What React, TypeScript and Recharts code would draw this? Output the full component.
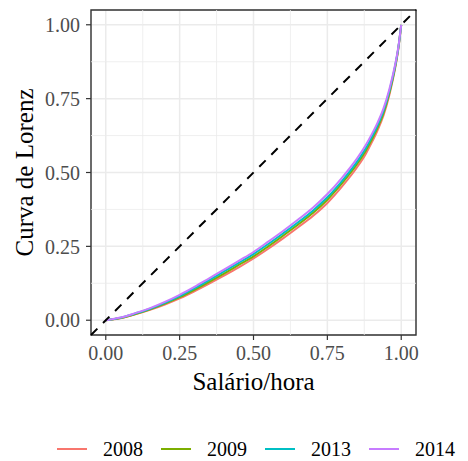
import React from "react";
import { LineChart, Line, XAxis, YAxis, CartesianGrid, ReferenceLine, ReferenceArea } from "recharts";

// cumulative share of population (x) for each Lorenz curve
const popShare = [
  0, 0.05, 0.1, 0.15, 0.2, 0.25, 0.3, 0.35, 0.4, 0.45, 0.5, 0.55, 0.6, 0.65, 0.7, 0.75,
  0.8, 0.85, 0.88, 0.9, 0.92, 0.94, 0.96, 0.97, 0.98, 0.99, 1,
];

// cumulative share of hourly wages, one list per year
const wage2008 = [
  0, 0.007, 0.02, 0.035, 0.053, 0.074, 0.098, 0.124, 0.151, 0.179, 0.209, 0.242, 0.277, 0.314,
  0.352, 0.397, 0.453, 0.517, 0.563, 0.601, 0.643, 0.693, 0.763, 0.807, 0.856, 0.917, 1,
];
const wage2009 = [
  0, 0.0075, 0.021, 0.037, 0.056, 0.078, 0.103, 0.13, 0.158, 0.187, 0.216, 0.25, 0.286, 0.323,
  0.362, 0.408, 0.464, 0.528, 0.574, 0.611, 0.652, 0.701, 0.77, 0.812, 0.86, 0.919, 1,
];
const wage2013 = [
  0, 0.0085, 0.023, 0.039, 0.059, 0.082, 0.108, 0.136, 0.165, 0.194, 0.224, 0.258, 0.294, 0.331,
  0.37, 0.416, 0.472, 0.536, 0.582, 0.619, 0.659, 0.708, 0.776, 0.817, 0.864, 0.921, 1,
];
const wage2014 = [
  0, 0.009, 0.024, 0.041, 0.062, 0.086, 0.113, 0.142, 0.171, 0.201, 0.231, 0.266, 0.302, 0.34,
  0.38, 0.427, 0.483, 0.547, 0.593, 0.629, 0.669, 0.717, 0.783, 0.823, 0.868, 0.923, 1,
];

const years = ["2008", "2009", "2013", "2014"];
const yearColors = ["#F8766D", "#7CAE00", "#00BFC4", "#C77CFF"];
const yearValues = [wage2008, wage2009, wage2013, wage2014];

const majorBreaks = [0, 0.25, 0.5, 0.75, 1];
const minorBreaks = [0.125, 0.375, 0.625, 0.875];
const limits: [number, number] = [-0.05, 1.05];

const FONT = "Liberation Serif";

const series = years.map((year, i) => ({
  year,
  color: yearColors[i],
  points: popShare.map((x, j) => ({ x, y: yearValues[i][j] })),
}));

const fmt = (v: number) => v.toFixed(2);

// tick labels in grey serif, like ggplot's theme_bw
const XTick = ({ x, y, payload }: any) => (
  <text x={x} y={y} dy="0.71em" textAnchor="middle" fontFamily={FONT} fontSize={20} fill="#4d4d4d">
    {fmt(payload.value)}
  </text>
);
const YTick = ({ x, y, payload }: any) => (
  <text x={x} y={y} dy="0.36em" textAnchor="end" fontFamily={FONT} fontSize={20} fill="#4d4d4d">
    {fmt(payload.value)}
  </text>
);

export default function App() {
  return (
    <div style={{ position: "relative", width: 452, height: 453 }}>
      <LineChart width={452} height={445} margin={{ top: 2, right: 44, bottom: 58, left: 0 }}>
        <CartesianGrid stroke="#ebebeb" strokeWidth={1.5} />
        {minorBreaks.map((v) => (
          <ReferenceLine key={"mx" + v} x={v} stroke="#ebebeb" strokeWidth={0.8} />
        ))}
        {minorBreaks.map((v) => (
          <ReferenceLine key={"my" + v} y={v} stroke="#ebebeb" strokeWidth={0.8} />
        ))}
        <ReferenceArea
          x1={limits[0]}
          x2={limits[1]}
          y1={limits[0]}
          y2={limits[1]}
          fill="none"
          stroke="#333333"
          strokeWidth={1.4}
        />
        <XAxis
          type="number"
          dataKey="x"
          domain={limits}
          allowDataOverflow
          ticks={majorBreaks}
          tick={<XTick />}
          tickSize={5}
          tickMargin={6}
          axisLine={false}
          tickLine={{ stroke: "#333333", strokeWidth: 1.2 }}
          height={60}
          label={{
            content: ({ viewBox }: any) => (
              <text
                x={viewBox.x + viewBox.width / 2}
                y={382}
                textAnchor="middle"
                fontFamily={FONT}
                fontSize={25}
                fill="#000"
              >
                Salário/hora
              </text>
            ),
          }}
        />
        <YAxis
          type="number"
          dataKey="y"
          domain={limits}
          allowDataOverflow
          ticks={majorBreaks}
          tick={<YTick />}
          tickSize={5}
          tickMargin={6}
          axisLine={false}
          tickLine={{ stroke: "#333333", strokeWidth: 1.2 }}
          width={83}
          label={{
            content: ({ viewBox }: any) => {
              const cy = viewBox.y + viewBox.height / 2;
              return (
                <text
                  x={25}
                  y={cy}
                  transform={`rotate(-90, 25, ${cy})`}
                  textAnchor="middle"
                  fontFamily={FONT}
                  fontSize={25}
                  fill="#000"
                >
                  Curva de Lorenz
                </text>
              );
            },
          }}
        />
        {series.map((s) => (
          <Line
            key={s.year}
            data={s.points}
            dataKey="y"
            type="monotone"
            stroke={s.color}
            strokeWidth={2}
            dot={false}
            isAnimationActive={false}
          />
        ))}
        <ReferenceLine
          segment={[
            { x: limits[0], y: limits[0] },
            { x: limits[1], y: limits[1] },
          ]}
          stroke="#000"
          strokeWidth={2}
          strokeDasharray="9 8"
        />
      </LineChart>
      <div
        style={{
          position: "absolute",
          left: 49,
          top: 431,
          height: 20,
          display: "flex",
          alignItems: "center",
          fontFamily: FONT,
          fontSize: 20,
          lineHeight: "20px",
          color: "#000",
          whiteSpace: "nowrap",
        }}
      >
        {series.map((s) => (
          <div key={s.year} style={{ display: "flex", alignItems: "center", marginRight: 18 }}>
            <span style={{ width: 30, height: 2, background: s.color, marginRight: 16 }} />
            <span>{s.year}</span>
          </div>
        ))}
      </div>
    </div>
  );
}
